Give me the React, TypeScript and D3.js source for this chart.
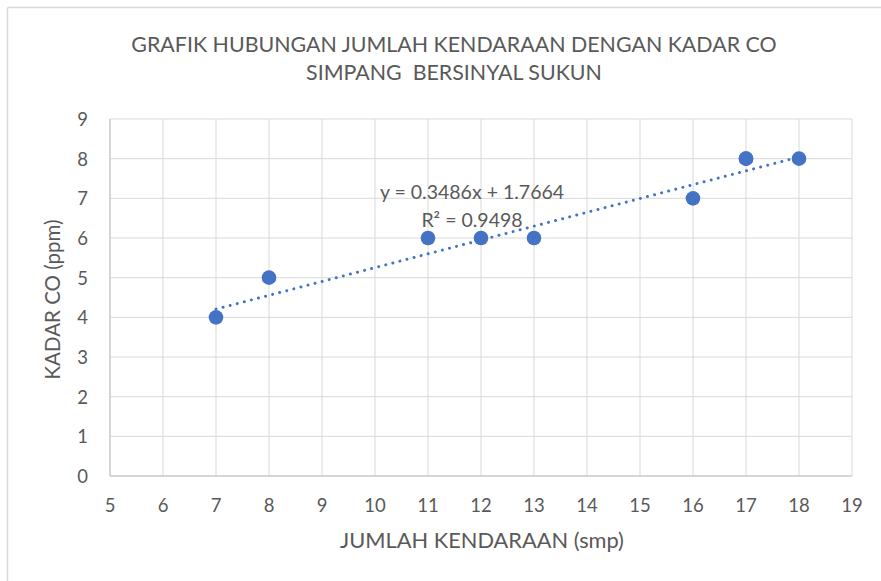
import React from "react";
import * as d3 from "d3";

const xValues = [7, 8, 11, 12, 13, 16, 17, 17, 18];
const yValues = [4, 5, 6, 6, 6, 7, 8, 8, 8];
const xTicks = [5, 6, 7, 8, 9, 10, 11, 12, 13, 14, 15, 16, 17, 18, 19];
const yTicks = [0, 1, 2, 3, 4, 5, 6, 7, 8, 9];
const trendSlope = 0.3486;
const trendIntercept = 1.7664;
const trendR2 = 0.9498;
const titleLines = ["GRAFIK HUBUNGAN JUMLAH KENDARAAN DENGAN KADAR CO", "SIMPANG  BERSINYAL SUKUN"];
const xTitle = "JUMLAH KENDARAAN (smp)";
const yTitle = "KADAR CO (ppm)";

const W = 881;
const H = 581;
const left = 110, right = 852, top = 119, bottom = 476;
const blue = "#4472C4";
const textColor = "#595959";
const font = "Lato, 'Open Sans', sans-serif";

export default function App() {
  const x = d3.scaleLinear().domain([5, 19]).range([left, right]);
  const y = d3.scaleLinear().domain([0, 9]).range([bottom, top]);
  const xMin = d3.min(xValues) as number;
  const xMax = d3.max(xValues) as number;
  const trend = d3.line<number>()
    .x((d) => x(d))
    .y((d) => y(trendSlope * d + trendIntercept));
  const points = xValues.map((v, i) => ({ x: v, y: yValues[i] }));
  return (
    <svg width={W} height={H} style={{ position: "absolute", left: 0, top: 0, background: "#fff" }} fontFamily={font}>
      <rect x={0} y={0} width={W} height={H} fill="#fff" />
      <line x1={7.5} y1={7.5} x2={W} y2={7.5} stroke="#d9d9d9" strokeWidth={1.5} />
      <line x1={7.5} y1={7.5} x2={7.5} y2={H} stroke="#d9d9d9" strokeWidth={1.5} />
      {titleLines.map((t, i) => (
        <text key={t} x={454} y={52 + i * 28} textAnchor="middle" fontSize={21.4} fill={textColor} style={{ whiteSpace: "pre" }}>{t}</text>
      ))}
      {yTicks.map((t) => (
        <line key={"gy" + t} x1={left} x2={right} y1={y(t)} y2={y(t)} stroke="#d9d9d9" strokeWidth={1} />
      ))}
      {xTicks.map((t) => (
        <line key={"gx" + t} x1={x(t)} x2={x(t)} y1={top} y2={bottom} stroke="#d9d9d9" strokeWidth={1} />
      ))}
      <line x1={left} x2={left} y1={top} y2={bottom} stroke="#bfbfbf" strokeWidth={1} />
      <line x1={left} x2={right} y1={bottom} y2={bottom} stroke="#bfbfbf" strokeWidth={1} />
      {yTicks.map((t) => (
        <text key={"ty" + t} x={88} y={y(t) + 7} textAnchor="end" fontSize={18.5} fill={textColor}>{t}</text>
      ))}
      {xTicks.map((t) => (
        <text key={"tx" + t} x={x(t)} y={512} textAnchor="middle" fontSize={18.5} fill={textColor}>{t}</text>
      ))}
      <text x={482} y={548} textAnchor="middle" fontSize={21.8} fill={textColor}>{xTitle}</text>
      <text transform={`translate(60,${(top + bottom) / 2 + 2}) rotate(-90)`} textAnchor="middle" fontSize={20.5} fill={textColor}>{yTitle}</text>
      {points.map((p, i) => (
        <circle key={i} cx={x(p.x)} cy={y(p.y)} r={7.3} fill={blue} />
      ))}
      <path d={trend([xMin, xMax]) || ""} fill="none" stroke={blue} strokeWidth={3} strokeLinecap="round" strokeDasharray="0.01 7.3" />
      <text x={472} y={199} textAnchor="middle" fontSize={19.5} fill={textColor}>{`y = ${trendSlope}x + ${trendIntercept}`}</text>
      <text x={472} y={227} textAnchor="middle" fontSize={19.5} fill={textColor}>{`R² = ${trendR2}`}</text>
    </svg>
  );
}
